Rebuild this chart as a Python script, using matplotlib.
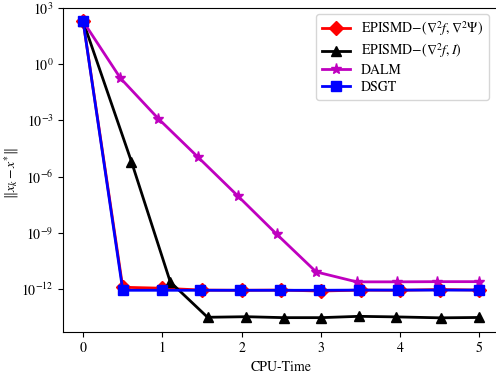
import matplotlib
matplotlib.use('Agg')
import matplotlib.pyplot as plt
import numpy as np

plt.rcParams['font.family'] = ['STIXGeneral', 'DejaVu Serif']
plt.rcParams['mathtext.fontset'] = 'stix'

# datos (log10 del error)
x_red = [0, 0.5, 1.0, 1.5, 2.0, 2.5, 3.0, 3.5, 4.0, 4.5, 5.0]
y_red = [2.29, -11.9, -11.95, -12.05, -12.06, -12.05, -12.1, -12.05, -12.06, -12.02, -12.05]

x_black = [0, 0.61, 1.10, 1.57, 2.06, 2.53, 3.0, 3.48, 3.95, 4.51, 5.0]
y_black = [2.29, -5.2, -11.62, -13.5, -13.47, -13.52, -13.52, -13.45, -13.48, -13.53, -13.51]

x_mag = [0, 0.47, 0.95, 1.45, 1.95, 2.44, 2.94, 3.45, 3.96, 4.47, 5.0]
y_mag = [2.29, -0.74, -2.91, -4.96, -7.02, -9.06, -11.08, -11.61, -11.61, -11.6, -11.6]

x_blue = [0, 0.5, 1.0, 1.47, 1.98, 2.48, 2.98, 3.48, 3.97, 4.49, 5.0]
y_blue = [2.29, -12.06, -12.06, -12.06, -12.06, -12.06, -12.06, -12.05, -12.05, -12.05, -12.05]

labels = [r'EPISMD$-(\nabla^2 f,\nabla^2\Psi)$', r'EPISMD$-(\nabla^2 f,I)$', 'DALM', 'DSGT']

fig = plt.figure(figsize=(4.96, 3.76), dpi=100)
ax = fig.add_axes([0.1276, 0.1178, 0.879, 0.861])

ax.plot(x_red, 10 ** np.array(y_red), color='red', marker='D', markersize=7, lw=2, label=labels[0])
ax.plot(x_black, 10 ** np.array(y_black), color='black', marker='^', markersize=7, lw=2, label=labels[1])
ax.plot(x_mag, 10 ** np.array(y_mag), color='m', marker='*', markersize=8, lw=2, label=labels[2])
ax.plot(x_blue, 10 ** np.array(y_blue), color='blue', marker='s', markersize=7, lw=2, label=labels[3])

ax.set_yscale('log')
ax.set_xlim(-0.25, 5.25)
ax.set_ylim(10 ** -14.27, 1e3)
ax.set_yticks([1e3, 1e0, 1e-3, 1e-6, 1e-9, 1e-12])
ax.minorticks_off()
ax.set_xticks([0, 1, 2, 3, 4, 5])
ax.tick_params(labelsize=10)

ax.set_xlabel('CPU-Time', fontsize=10)
ax.set_ylabel(r'$\|x_k - x^{*}\|$', fontsize=10)
ax.yaxis.set_label_coords(-0.097, 0.49)

ax.legend(loc='upper right', fontsize=10, bbox_to_anchor=(0.985, 0.995),
          labelspacing=0.25, borderaxespad=0.3, handlelength=2.0)

plt.savefig('out.png', dpi=100)
